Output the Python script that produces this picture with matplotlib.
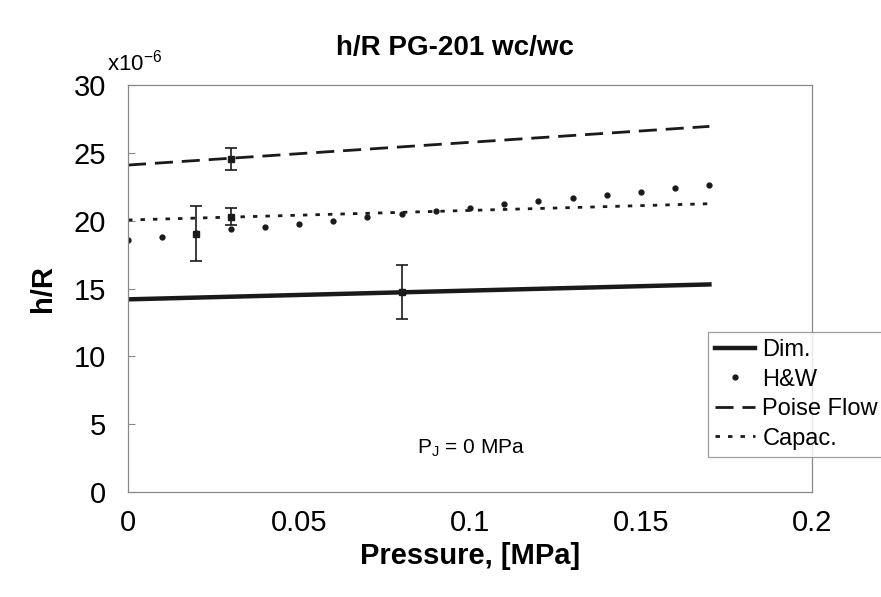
import numpy as np
import matplotlib.pyplot as plt

plt.rcParams['font.family'] = ['Liberation Sans', 'DejaVu Sans']

# pressure, MPa
p_line = [0.0, 0.17]
dim_line = [14.2, 15.3]
poise_line = [24.1, 26.95]
capac_line = [20.05, 21.25]

p_hw = [0.0, 0.01, 0.02, 0.03, 0.04, 0.05, 0.06, 0.07, 0.08,
        0.09, 0.10, 0.11, 0.12, 0.13, 0.14, 0.15, 0.16, 0.17]
hw = [18.6, 18.8, 19.1, 19.35, 19.5, 19.75, 20.0, 20.25, 20.5,
      20.7, 20.95, 21.2, 21.45, 21.7, 21.9, 22.15, 22.4, 22.6]

# error bar points (x, y, +/-)
err_x = [0.02, 0.03, 0.03, 0.08]
err_y = [19.05, 24.55, 20.3, 14.75]
err_e = [2.0, 0.8, 0.6, 2.0]

fig = plt.figure(figsize=(8.81, 5.97), dpi=100)
ax = fig.add_axes([0.1453, 0.1759, 0.7764, 0.6817])

ax.plot(p_line, dim_line, color='#1a1a1a', lw=3.2, label='Dim.')
ax.plot(p_hw, hw, ls='none', marker='o', ms=3.5, color='#1a1a1a', label='H&W')
ax.plot(p_line, poise_line, color='#1a1a1a', lw=2, dashes=(6.5, 3.2), label='Poise Flow')
ax.plot(p_line, capac_line, color='#1a1a1a', lw=2, dashes=(1.6, 2.9), label='Capac.')
ax.errorbar(err_x, err_y, yerr=err_e, fmt='s', ms=4, color='#1a1a1a',
            ecolor='#1a1a1a', elinewidth=1.2, capsize=4, capthick=1.2)

ax.set_xlim(0, 0.2)
ax.set_ylim(0, 30)
ax.set_xticks([0, 0.05, 0.1, 0.15, 0.2])
ax.set_xticklabels(['0', '0.05', '0.1', '0.15', '0.2'])
ax.set_yticks(range(0, 31, 5))
ax.tick_params(axis='y', direction='in', length=5, color='#888888', labelsize=21, pad=16)
ax.tick_params(axis='x', length=0, labelsize=21, pad=12)
for s in ax.spines.values():
    s.set_color('#888888')
    s.set_linewidth(0.9)

ax.set_xlabel('Pressure, [MPa]', fontsize=21, fontweight='bold', labelpad=4)
ax.set_ylabel('h/R', fontsize=21, fontweight='bold', labelpad=12)
fig.text(0.517, 0.92, 'h/R PG-201 wc/wc', fontsize=20, fontweight='bold', ha='center', va='center')
fig.text(0.122, 0.895, r'x10$^{\mathregular{-6}}$', fontsize=16, ha='left', va='center')
ax.text(0.0845, 3.2, r'P$_{\mathregular{J}}$ = 0 MPa', fontsize=15, ha='left', va='center')

leg = fig.legend(loc='upper left', bbox_to_anchor=(708 / 881, 1 - 332 / 597),
                 fontsize=17, frameon=True, fancybox=False, handlelength=1.7,
                 handletextpad=0.3, labelspacing=0.32, borderpad=0.3, borderaxespad=0)
leg.get_frame().set_edgecolor('#888888')
leg.get_frame().set_linewidth(0.9)

fig.savefig('out.png', dpi=100)
